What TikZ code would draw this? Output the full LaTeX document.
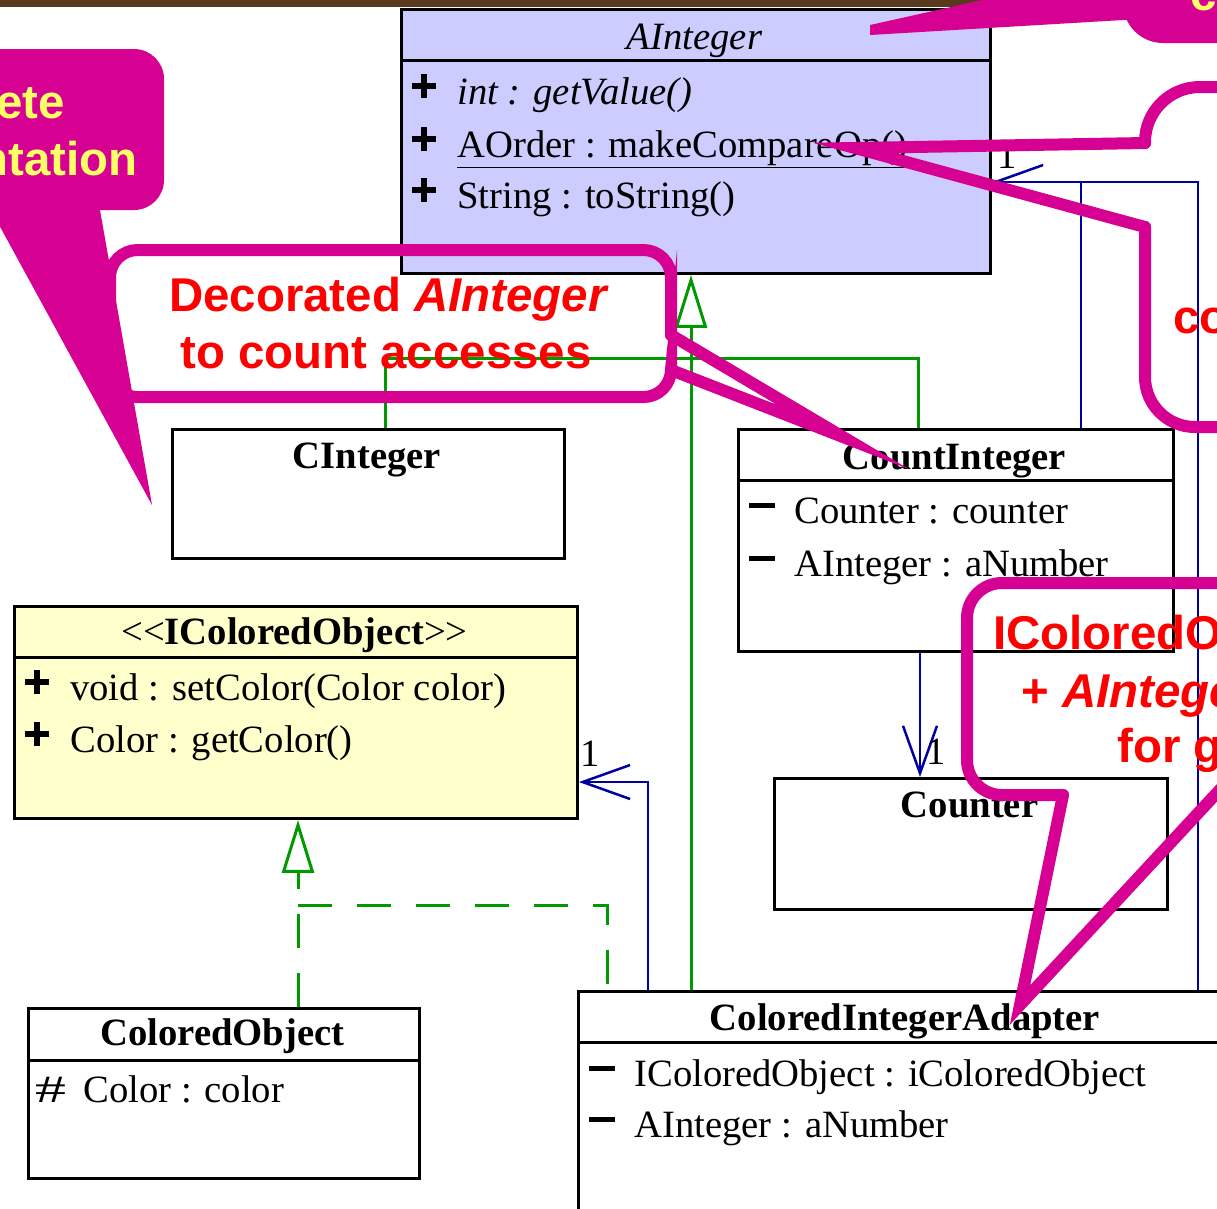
\documentclass[tikz,border=0pt]{standalone}
\usepackage{fontspec}
\setmainfont{Liberation Serif}
\newfontfamily\callfont{Liberation Sans}
\usetikzlibrary{arrows.meta}

\definecolor{lavender}{RGB}{204,204,255}
\definecolor{paleyellow}{RGB}{255,255,204}
\definecolor{umlgreen}{RGB}{0,153,0}
\definecolor{umlblue}{RGB}{0,0,160}
\definecolor{callmagenta}{RGB}{214,0,147}
\definecolor{callyellow}{RGB}{255,255,102}
\definecolor{barbrown}{RGB}{90,58,30}

\newcommand{\umlplus}{\makebox[0.9cm][l]{\rlap{\rule[0.30cm]{0.48cm}{0.12cm}}\hspace{0.18cm}\rule[0.12cm]{0.12cm}{0.48cm}}}
\newcommand{\umlminus}{\makebox[0.9cm][l]{\rule[0.31cm]{0.52cm}{0.1cm}}}
\newcommand{\umlprot}{\makebox[0.96cm][l]{\scalebox{1.6}[1.0]{\#}}}

\begin{document}
\begin{tikzpicture}[x=0.02cm, y=-0.02cm,
        classbox/.style={draw=black, line width=0.06cm, inner sep=0pt, anchor=north west},
        classname/.style={font=\fontsize{22}{26}\selectfont\bfseries, anchor=base, inner sep=0pt},
        member/.style={font=\fontsize{22}{26}\selectfont, anchor=base west, inner sep=0pt},
        mult/.style={font=\fontsize{22}{26}\selectfont, inner sep=0pt},
        gen/.style={draw=umlgreen, line width=0.06cm},
        real/.style={gen, dash pattern=on 0.68cm off 0.5cm},
        assoc/.style={draw=umlblue, line width=0.05cm},
        hollow/.style={-{Triangle[length=1.06cm, width=0.64cm, fill=white]}},
        barb/.style={-{Straight Barb[length=0.95cm, width=0.68cm]}},
        bubble/.style={draw=callmagenta, line width=0.24cm, line cap=round, line join=miter, miter limit=25},
        bubblefill/.style={fill=callmagenta},
        bubbletext/.style={font=\callfont\fontsize{27}{32}\selectfont\bfseries, inner sep=0pt},
    ]
    \useasboundingbox (0,0) rectangle (1217,1208);
    \clip (0,0) rectangle (1217,1208);
    \fill[white] (0,0) rectangle (1217,1208);
    \fill[barbrown] (0,0) rectangle (1217,7);

    \node[classbox, fill=lavender, minimum width=11.78cm, minimum height=5.28cm] (aint) at (400,8) {};
    \node[classbox, fill=white, minimum width=7.84cm, minimum height=2.58cm] (cint) at (171,428) {};
    \node[classbox, fill=white, minimum width=8.70cm, minimum height=4.44cm] (cntint) at (737,428) {};
    \node[classbox, fill=paleyellow, minimum width=11.26cm, minimum height=4.24cm] (icol) at (13,605) {};
    \node[classbox, fill=white, minimum width=7.86cm, minimum height=2.62cm] (counter) at (773,777) {};
    \node[classbox, fill=white, minimum width=7.82cm, minimum height=3.40cm] (colobj) at (27,1007) {};
    \node[classbox, fill=white, minimum width=13.12cm, minimum height=5.20cm] (adapter) at (577,990) {};

    \draw[line width=0.06cm] ([yshift=-1.06cm]aint.north west) -- ([yshift=-1.06cm]aint.north east);
    \draw[line width=0.06cm] ([yshift=-1.04cm]cntint.north west) -- ([yshift=-1.04cm]cntint.north east);
    \draw[line width=0.06cm] ([yshift=-1.04cm]icol.north west) -- ([yshift=-1.04cm]icol.north east);
    \draw[line width=0.06cm] ([yshift=-1.06cm]colobj.north west) -- ([yshift=-1.06cm]colobj.north east);
    \draw[line width=0.06cm] ([yshift=-1.04cm]adapter.north west) -- ([yshift=-1.04cm]adapter.north east);

    \node[classname, font=\fontsize{22}{26}\selectfont\itshape] (aintname) at (694.5,49) {AInteger};
    \node[member] (aintop1) at (412,104) {\umlplus\textit{int : getValue()}};
    \node[member] (aintop2) at (412,157) {\umlplus\underline{AOrder : makeCompareOp()}};
    \node[member] (aintop3) at (412,208) {\umlplus String : toString()};

    \node[classname] (cintname) at (367,468) {CInteger};

    \node[classname] (cntintname) at (954.5,469) {CountInteger};
    \node[member] (cntintat1) at (749,523) {\umlminus Counter : counter};
    \node[member] (cntintat2) at (749,576) {\umlminus AInteger : aNumber};

    \node[classname, font=\fontsize{22}{26}\selectfont] (icolname) at (294.5,644) {\hbox{<}\hbox{<}\textbf{IColoredObject}\hbox{>}\hbox{>}};
    \node[member] (icolop1) at (25,700) {\umlplus void : setColor(Color color)};
    \node[member] (icolop2) at (25,752) {\umlplus Color : getColor()};

    \node[classname] (countername) at (969.5,817) {Counter};

    \node[classname] (colobjname) at (222.5,1045) {ColoredObject};
    \node[member] (colobjat1) at (35,1102) {\umlprot Color : color};

    \node[classname] (adaptername) at (905,1030) {ColoredIntegerAdapter};
    \node[member] (adapterat1) at (589,1086) {\umlminus IColoredObject : iColoredObject};
    \node[member] (adapterat2) at (589,1137) {\umlminus AInteger : aNumber};

    \coordinate (ghub) at (691,358);
    \draw[gen] (adapter.north -| ghub) -- (ghub);
    \draw[gen, hollow] (ghub) -- (aint.south -| ghub);
    \draw[gen] ([xshift=0.34cm]cint.north) |- (ghub) -| ([xshift=-0.75cm]cntint.north);

    \coordinate (rhub) at (298,905);
    \draw[real, hollow] (colobj.north -| rhub) -- (icol.south -| rhub);
    \draw[real] (rhub) -| ([xshift=0.6cm]adapter.north west);

    \coordinate (ahub) at (1081,182);
    \coordinate (arail) at (1198,182);
    \draw[assoc, barb] (adapter.north -| arail) -- (arail) -- (aint.east |- arail);
    \draw[assoc] (cntint.north -| ahub) -- (ahub);
    \node[mult] (m1) at (1007,156) {1};

    \coordinate (crail) at (920,700);
    \draw[assoc, barb] (cntint.south -| crail) -- (counter.north -| crail);
    \node[mult] (m2) at (936,752) {1};

    \coordinate (irail) at (648,782);
    \draw[assoc, barb] (adapter.north -| irail) -- (irail) -- (icol.east |- irail);
    \node[mult] (m3) at (590,754) {1};

    \fill[bubblefill, rounded corners=0.6cm] (-80,49) rectangle (164,210);
    \fill[bubblefill] (-20,190) -- (100,190) -- (100,210) -- (152,505) -- cycle;
    \node[bubbletext, text=callyellow, anchor=base east] (concl1) at (65,118) {ete};
    \node[bubbletext, text=callyellow, anchor=base east] (concl2) at (138,175) {ntation};

    \fill[bubblefill, rounded corners=0.8cm] (1123,-80) rectangle (1300,43);
    \fill[bubblefill] (870,25) -- (1005,-5) -- (1140,-5) -- (1140,19) -- (870,35) -- cycle;
    \node[bubbletext, text=callyellow, anchor=base west] (topc) at (1190,10) {c};

    \draw[bubble, rounded corners=0.55cm] (671,335) -- (671,250) -- (110,250) -- (110,397) -- (671,397) -- (671,370);
    \draw[bubble] (671,335) -- (843,437) -- (671,370);
    \node[bubbletext, text=red, anchor=base] (decl1) at (389,311) {Decorated \textit{AInteger}};
    \node[bubbletext, text=red, anchor=base] (decl2) at (386,368) {to count accesses};

    \draw[bubble, rounded corners=1.1cm] (1145,143) -- (1145,87) -- (1280,87);
    \draw[bubble, rounded corners=1.0cm] (1145,227) -- (1145,427) -- (1280,427);
    \draw[bubble] (1145,143) -- (855,148) -- (1145,227);
    \node[bubbletext, text=red, anchor=base west] (cmpl) at (1173,333) {co};

    \draw[bubble, rounded corners=0.7cm] (1063,795) -- (967,795) -- (967,583) -- (1280,583);
    \draw[bubble] (1063,795) -- (1020,1005) -- (1240,768);
    \node[bubbletext, text=red, anchor=base west] (icl1) at (993,649) {IColoredO};
    \node[bubbletext, text=red, anchor=base west] (icl2) at (1021,707) {+ \textit{AIntege}};
    \node[bubbletext, text=red, anchor=base west] (icl3) at (1117,762) {for g};
\end{tikzpicture}
\end{document}
